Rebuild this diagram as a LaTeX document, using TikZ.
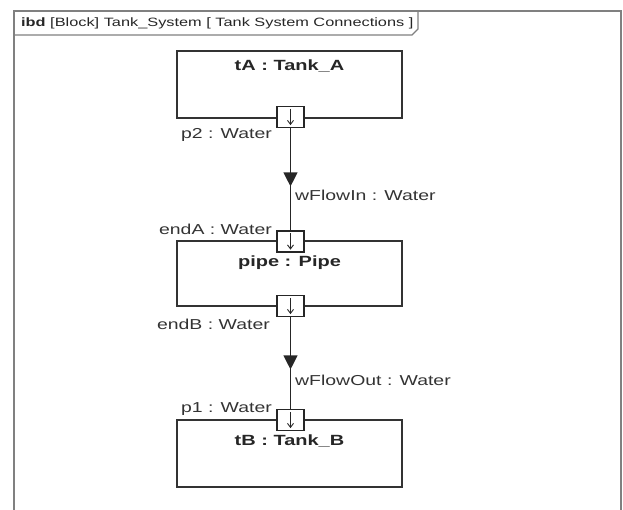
\documentclass[tikz,border=0pt]{standalone}
\usepackage{fontspec}
\setmainfont[FakeStretch=1.35]{Liberation Sans}
\usetikzlibrary{arrows.meta,decorations.markings,calc}
\begin{document}
\begin{tikzpicture}[x=1pt,y=-1pt,
  blockbox/.style={draw=black!80,line width=1.2pt,minimum width=225pt,inner sep=0pt},
  portbox/.style={draw=black!85,fill=white,line width=1.2pt,minimum width=27pt,minimum height=21pt,inner sep=0pt},
  titletext/.style={font=\fontsize{14.8}{16}\selectfont\bfseries,text=black!85,inner sep=0pt},
  lbl/.style={font=\fontsize{14.4}{16}\selectfont,text=black!80,inner sep=0pt},
  frameline/.style={draw=black!50,line width=1.3pt},
  flow/.style={line width=1.2pt,draw=black!85,postaction={decorate},
    decoration={markings,mark=at position 0.57 with {\arrow{Triangle[length=14pt,width=14pt]}}}},
  portarrow/.style={line width=0.9pt,draw=black!85,-{Straight Barb[length=4pt,width=6pt]}}
]
\useasboundingbox (0,0) rectangle (623,509);
\clip (0,0) rectangle (623,509);
% frame
\draw[frameline] (14,530) -- (14,11) -- (621,11) -- (621,530);
\draw[frameline] (14,35) -- (412,35) -- (418,29) -- (418,11);
\node[anchor=west,inner sep=0pt,font=\fontsize{12.1}{13}\selectfont,text=black!85] (hdr) at (21,23)
  {\textbf{ibd} [Block] Tank\_System [ Tank System Connections ]};
% blocks
\node[blockbox,minimum height=67pt] (tA) at (289.5,84.5) {};
\node[blockbox,minimum height=65pt] (pipe) at (289.5,273.5) {};
\node[blockbox,minimum height=67pt] (tB) at (289.5,453.5) {};
\node[titletext] (tAt) at ($(tA.north)+(0,16)$) {tA : Tank\_A};
\node[titletext] (pipet) at ($(pipe.north)+(0,22)$) {pipe : Pipe};
\node[titletext] (tBt) at ($(tB.north)+(0,22)$) {tB : Tank\_B};
% ports
\node[portbox] (p2) at (290.5,117) {};
\node[portbox] (endA) at (290.5,241.5) {};
\node[portbox] (endB) at (290.5,306) {};
\node[portbox] (p1) at (290.5,420) {};
\foreach \p in {p2,endA,endB,p1}{
  \draw[portarrow] ($(\p.north)+(0,3)$) -- ($(\p.south)+(0,-3)$);
}
% connectors
\draw[flow] (p2.south) -- (endA.north);
\draw[flow] (endB.south) -- (p1.north);
% labels
\node[lbl,anchor=east] (lp2) at (272,135) {p2 : Water};
\node[lbl,anchor=east] (lendA) at (272,229) {endA : Water};
\node[lbl,anchor=east] (lendB) at (270,324) {endB : Water};
\node[lbl,anchor=east] (lp1) at (272,409) {p1 : Water};
\node[lbl,anchor=west] (lwin) at (295,195) {wFlowIn : Water};
\node[lbl,anchor=west] (lwout) at (295,380) {wFlowOut : Water};
\end{tikzpicture}
\end{document}
